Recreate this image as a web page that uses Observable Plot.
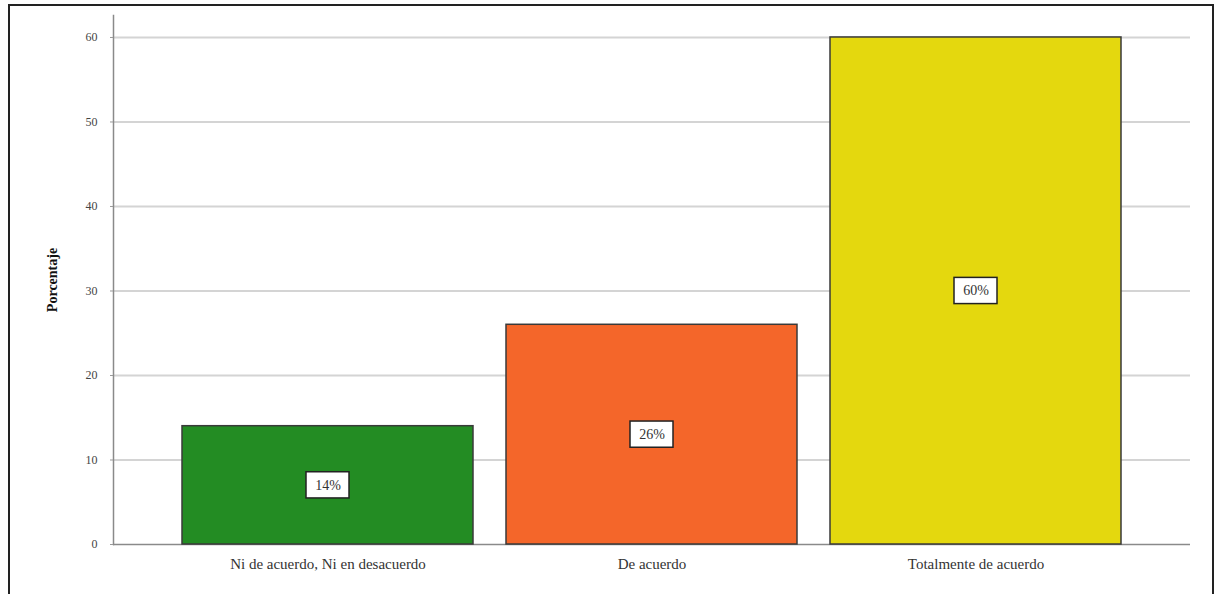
<!DOCTYPE html>
<html>
<head>
<meta charset="utf-8">
<script src="https://cdn.jsdelivr.net/npm/d3@7"></script>
<script src="https://cdn.jsdelivr.net/npm/@observablehq/plot@0.6"></script>
<style>
  html, body { margin: 0; padding: 0; background: #fff; }
  #wrap { position: relative; width: 1219px; height: 594px; overflow: hidden; }
  #border { position: absolute; left: 8px; top: 4px; width: 1206px; height: 600px; border: 2px solid #222; box-sizing: border-box; pointer-events: none; }
  #chart { position: absolute; left: 0; top: 0; }
</style>
</head>
<body>
<div id="wrap"><div id="chart"></div><div id="border"></div></div>
<script>
const categories = ["Ni de acuerdo, Ni en desacuerdo", "De acuerdo", "Totalmente de acuerdo"];
const values = [14, 26, 60];
const labels = ["14%", "26%", "60%"];
const colors = ["#238c23", "#f4662a", "#e4d80e"];
const yTicks = [0, 10, 20, 30, 40, 50, 60];

const data = categories.map((c, i) => ({category: c, value: values[i], label: labels[i], color: colors[i]}));

const font = "'Liberation Serif', 'DejaVu Serif', serif";

const chart = Plot.plot({
  width: 1219,
  height: 594,
  marginLeft: 113,
  marginRight: 29,
  marginTop: 15,
  marginBottom: 50,
  style: {fontFamily: font, background: "transparent"},
  x: {domain: categories, paddingInner: 0.102, paddingOuter: 0.208, label: null},
  y: {domain: [0, 62.6], label: null},
  marks: [
    Plot.gridY(yTicks.filter(d => d > 0), {stroke: "#d4d4d4", strokeOpacity: 1, strokeWidth: 2}),
    Plot.frame({anchor: "left", stroke: "#8a8a8a", strokeWidth: 1.5}),
    Plot.ruleY([0], {stroke: "#8a8a8a", strokeWidth: 1.5}),
    Plot.barY(data, {x: "category", y: "value", fill: "color", stroke: "#3a3a3a", strokeWidth: 1.5}),
    Plot.rect(data, {
      x: "category",
      y1: d => d.value / 2 - 1.55,
      y2: d => d.value / 2 + 1.55,
      insetLeft: 124, insetRight: 124,
      fill: "white", stroke: "#222", strokeWidth: 1.5
    }),
    Plot.text(data, {x: "category", y: d => d.value / 2, text: "label", fontSize: 14, fill: "#333"}),
    Plot.axisY({ticks: yTicks, tickSize: 3, tickPadding: 13, fontSize: 12, stroke: "#999", color: "#444", label: null}),
    Plot.axisX({tickSize: 0, tickPadding: 14, fontSize: 15, color: "#333", label: null}),
    Plot.text(["Porcentaje"], {frameAnchor: "left", dx: -61, textAnchor: "middle", rotate: -90, fontWeight: "bold", fontSize: 14, fill: "#111"})
  ]
});
document.getElementById("chart").appendChild(chart);
</script>
</body>
</html>
